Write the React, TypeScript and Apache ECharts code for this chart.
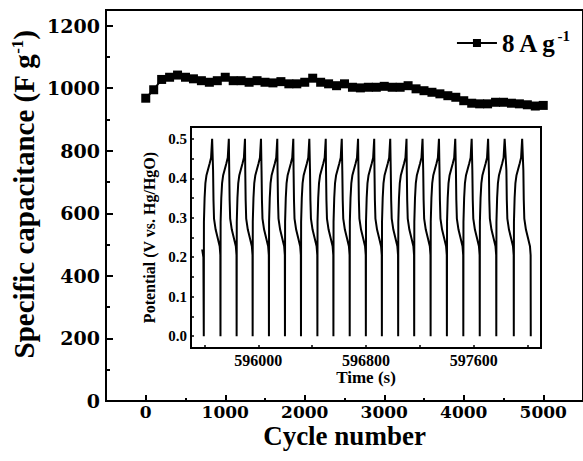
import React, { useEffect, useRef } from "react";
import * as echarts from "echarts";

// Main chart: cycle number vs specific capacitance (F g-1)
const cycleNumbers = [
  0, 100, 200, 300, 400, 500, 600, 700, 800, 900, 1000, 1100, 1200, 1300, 1400, 1500, 1600, 1700, 1800,
  1900, 2000, 2100, 2200, 2300, 2400, 2500, 2600, 2700, 2800, 2900, 3000, 3100, 3200, 3300, 3400, 3500,
  3600, 3700, 3800, 3900, 4000, 4100, 4200, 4300, 4400, 4500, 4600, 4700, 4800, 4900, 5000,
];
const capacitance = [
  968, 995, 1028, 1035, 1042, 1035, 1030, 1024, 1019, 1024, 1035, 1024, 1024, 1019, 1024, 1019, 1017,
  1021, 1014, 1014, 1019, 1032, 1019, 1014, 1008, 1014, 1003, 1001, 1003, 1003, 1006, 1003, 1003, 1008,
  998, 992, 987, 982, 976, 971, 960, 952, 950, 950, 955, 955, 952, 950, 947, 943, 945,
];
const mainXLabels = [0, 1000, 2000, 3000, 4000, 5000];
const mainYLabels = [0, 200, 400, 600, 800, 1000, 1200];

// Inset: galvanostatic charge-discharge curves
const insetStart: [number, number][] = [[595583, 0.22], [595592, 0.2]];
const dischargeEndTimes = [
  595595, 595719, 595839, 595958, 596079, 596198, 596317, 596439, 596558, 596679, 596799, 596918, 597039,
  597158, 597280, 597401, 597523, 597645, 597768, 597898, 598024,
];
// seconds after the end of discharge, potential (V)
const chargeProfile: [number, number][] = [
  [0, 0], [1, 0.29], [6, 0.35], [12, 0.388], [20, 0.408], [32, 0.423], [44, 0.438], [54, 0.452], [62, 0.5],
];
// seconds before the next end of discharge, potential (V)
const dischargeProfile: [number, number][] = [
  [-55, 0.42], [-52, 0.345], [-48, 0.298], [-36, 0.27], [-18, 0.245], [-6, 0.228], [-1, 0.205],
];
const insetXLabels = [596000, 596800, 597600];
const insetXTicks = [595600, 596000, 596400, 596800, 597200, 597600, 598000];
const insetYLabels = [0, 0.1, 0.2, 0.3, 0.4, 0.5];
const insetYTicks = [0, 0.05, 0.1, 0.15, 0.2, 0.25, 0.3, 0.35, 0.4, 0.45, 0.5];

const FONT = "'Liberation Serif', 'Times New Roman', serif";
const WIDE = "'DejaVu Serif', serif";

export default function App() {
  const ref = useRef<HTMLDivElement>(null);
  useEffect(() => {
    if (!ref.current) return;
    const chart = echarts.init(ref.current, null, { renderer: "svg" });

    const mainData = cycleNumbers.map((c, i) => [c, capacitance[i]]);
    const insetData: [number, number][] = [...insetStart];
    for (let i = 0; i < dischargeEndTimes.length - 1; i++) {
      const t0 = dischargeEndTimes[i];
      const t1 = dischargeEndTimes[i + 1];
      chargeProfile.forEach(([dt, v]) => insetData.push([t0 + dt, v]));
      dischargeProfile.forEach(([dt, v]) => insetData.push([t1 + dt, v]));
    }
    insetData.push([dischargeEndTimes[dischargeEndTimes.length - 1], 0]);

    const txt = { fontFamily: FONT, fontWeight: "bold" as const, color: "#000" };
    const wide = { fontFamily: WIDE, fontWeight: "bold" as const, color: "#000" };
    const plain = (v: number) => String(v);

    chart.setOption({
      animation: false,
      backgroundColor: "#fff",
      legend: {
        right: 8,
        top: 23,
        itemWidth: 40,
        itemHeight: 10,
        itemGap: 4,
        data: ["8 A g-1"],
        formatter: () => "{a|8 A g}{b|-1}",
        textStyle: {
          ...txt,
          rich: {
            a: { fontFamily: FONT, fontWeight: "bold", fontSize: 25, lineHeight: 30, color: "#000" },
            b: { fontFamily: FONT, fontWeight: "bold", fontSize: 15, verticalAlign: "top", color: "#000" },
          },
        },
      },
      grid: [
        { left: 106, top: 10, right: -2, bottom: 60, show: true, borderColor: "#000", borderWidth: 2 },
        {
          left: 191, top: 127, width: 350, height: 221, show: true, borderColor: "#000", borderWidth: 2,
          backgroundColor: "#fff",
        },
      ],
      xAxis: [
        {
          type: "value", gridIndex: 0, min: -500, max: 5500, interval: 500, position: "bottom",
          name: "Cycle number", nameLocation: "middle", nameGap: 21,
          nameTextStyle: { ...txt, fontSize: 27 },
          axisLine: { onZero: false, lineStyle: { color: "#000", width: 2 } },
          axisTick: { inside: true, length: 3, lineStyle: { color: "#000", width: 2 } },
          axisLabel: { show: false },
          splitLine: { show: false },
        },
        {
          type: "value", gridIndex: 0, min: -500, max: 5500, position: "bottom",
          axisLine: { show: false, onZero: false },
          axisTick: { inside: true, length: 6, customValues: mainXLabels, lineStyle: { color: "#000", width: 2 } },
          axisLabel: { ...wide, fontSize: 17, margin: 2, customValues: mainXLabels, formatter: plain },
          splitLine: { show: false },
        },
        {
          type: "value", gridIndex: 1, min: 595500, max: 598100, position: "bottom",
          name: "Time (s)", nameLocation: "middle", nameGap: 21,
          nameTextStyle: { ...txt, fontSize: 17 },
          axisLine: { onZero: false, lineStyle: { color: "#000", width: 2 } },
          axisTick: { inside: true, length: 3, customValues: insetXTicks, lineStyle: { color: "#000", width: 1.5 } },
          axisLabel: { ...txt, fontSize: 16, margin: 4, customValues: insetXLabels, formatter: plain },
          splitLine: { show: false },
        },
      ],
      yAxis: [
        {
          type: "value", gridIndex: 0, min: 0, max: 1250, interval: 100, position: "left",
          name: "Specific capacitance (F g{b|-1})", nameLocation: "middle", nameGap: 68,
          nameTextStyle: {
            ...txt, fontSize: 29, padding: [0, 0, 0, 22],
            rich: { b: { fontFamily: FONT, fontWeight: "bold", fontSize: 17, verticalAlign: "top", color: "#000" } },
          },
          axisLine: { onZero: false, lineStyle: { color: "#000", width: 2 } },
          axisTick: { inside: true, length: 4, lineStyle: { color: "#000", width: 2 } },
          axisLabel: { show: false },
          splitLine: { show: false },
        },
        {
          type: "value", gridIndex: 0, min: 0, max: 1250, position: "left",
          axisLine: { show: false, onZero: false },
          axisTick: { inside: true, length: 7, customValues: mainYLabels, lineStyle: { color: "#000", width: 2 } },
          axisLabel: { ...wide, fontSize: 19, margin: 6, customValues: mainYLabels, formatter: plain },
          splitLine: { show: false },
        },
        {
          type: "value", gridIndex: 1, min: -0.03, max: 0.53, position: "left",
          name: "Potential (V vs. Hg/HgO)", nameLocation: "middle", nameGap: 26,
          nameTextStyle: { ...txt, fontSize: 16 },
          axisLine: { onZero: false, lineStyle: { color: "#000", width: 2 } },
          axisTick: { inside: true, length: 3, customValues: insetYTicks, lineStyle: { color: "#000", width: 1.5 } },
          axisLabel: {
            ...txt, fontSize: 15, margin: 4, customValues: insetYLabels,
            formatter: (v: number) => v.toFixed(1),
          },
          splitLine: { show: false },
        },
      ],
      series: [
        {
          name: "8 A g-1", type: "line", xAxisIndex: 0, yAxisIndex: 0, data: mainData,
          symbol: "rect", symbolSize: 9, itemStyle: { color: "#000" },
          lineStyle: { color: "#000", width: 2 },
        },
        {
          name: "inset", type: "line", xAxisIndex: 2, yAxisIndex: 2, data: insetData,
          showSymbol: false, symbol: "none", lineStyle: { color: "#000", width: 2 }, silent: true,
        },
      ],
    });
    return () => chart.dispose();
  }, []);
  return <div ref={ref} style={{ width: 583, height: 461, position: "absolute", left: 0, top: 0 }} />;
}
